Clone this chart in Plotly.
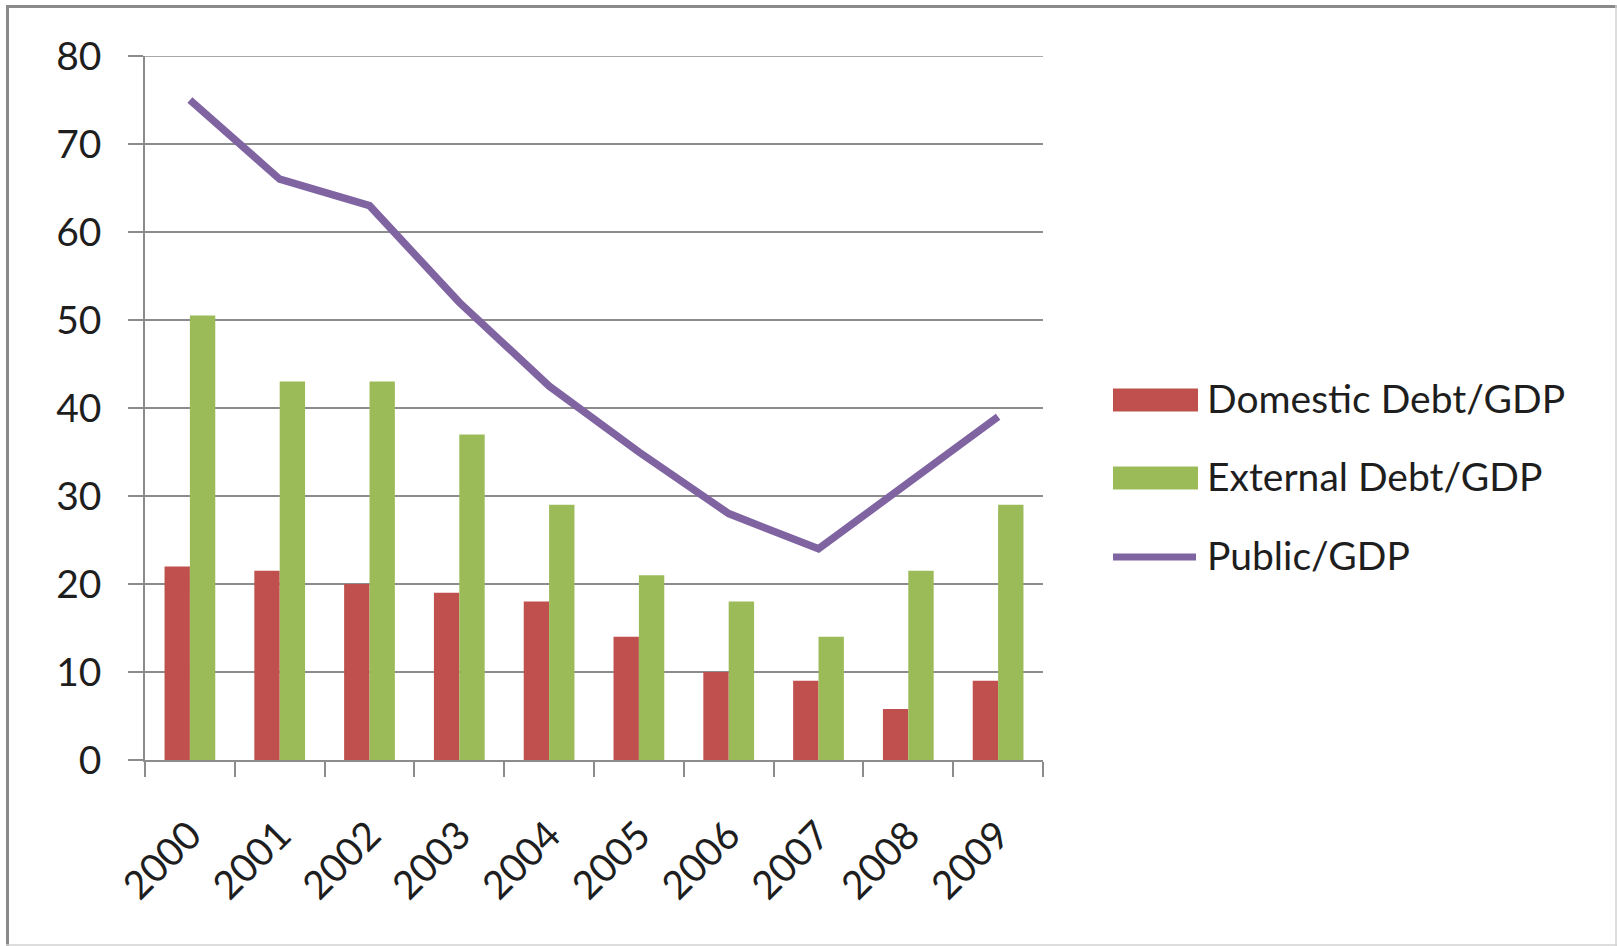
import plotly.graph_objects as go

# Debt ratios, % of GDP
years = ["2000", "2001", "2002", "2003", "2004", "2005", "2006", "2007", "2008", "2009"]
domestic_debt = [22, 21.5, 20, 19, 18, 14, 10, 9, 5.8, 9]
external_debt = [50.5, 43, 43, 37, 29, 21, 18, 14, 21.5, 29]
public_debt = [75, 66, 63, 52, 42.5, 35, 28, 24, 31.5, 39]
series_names = ["Domestic Debt/GDP", "External Debt/GDP", "Public/GDP"]
y_ticks = [0, 10, 20, 30, 40, 50, 60, 70, 80]

RED = "#C0504D"
GREEN = "#9BBB59"
PURPLE = "#8064A2"
GRID = "#8c8c8c"
TEXT = "#1e1e1e"
FONT = "Lato"
FS = 39

W, H = 1617, 946
PL, PR, PT, PB = 145, 1043, 56, 760  # plot area in pixels


def px_x(x):
    return (x - PL) / (PR - PL)


def px_y(y):
    return (PB - y) / (PB - PT)


fig = go.Figure()
fig.add_trace(go.Bar(x=years, y=domestic_debt, name=series_names[0],
                     marker=dict(color=RED, line=dict(width=0)), showlegend=False))
fig.add_trace(go.Bar(x=years, y=external_debt, name=series_names[1],
                     marker=dict(color=GREEN, line=dict(width=0)), showlegend=False))
fig.add_trace(go.Scatter(x=years, y=public_debt, name=series_names[2], mode="lines",
                         line=dict(color=PURPLE, width=7.5), showlegend=False))

# Legend drawn beside the plot: wide swatches like the spreadsheet style
shapes = []
annotations = []
rows = [(400, RED, "bar"), (478, GREEN, "bar"), (557, PURPLE, "line")]
for (cy, color, kind), name in zip(rows, series_names):
    if kind == "bar":
        shapes.append(dict(type="rect", xref="paper", yref="paper",
                           x0=px_x(1113), x1=px_x(1198),
                           y0=px_y(cy + 11.5), y1=px_y(cy - 11.5),
                           fillcolor=color, line=dict(width=0)))
    else:
        shapes.append(dict(type="line", xref="paper", yref="paper",
                           x0=px_x(1113), x1=px_x(1196),
                           y0=px_y(cy), y1=px_y(cy),
                           line=dict(color=color, width=7)))
    annotations.append(dict(text=name, xref="paper", yref="paper",
                            x=px_x(1205), y=px_y(cy - 2), xanchor="left", yanchor="middle",
                            showarrow=False, font=dict(family=FONT, size=FS, color=TEXT)))

# Top gridline sits on the plot edge, so draw it explicitly
shapes.append(dict(type="line", xref="paper", yref="y", x0=0, x1=1,
                   y0=y_ticks[-1], y1=y_ticks[-1], line=dict(color=GRID, width=1.5),
                   layer="below"))

# Outer frame
shapes += [
    dict(type="line", xref="paper", yref="paper", x0=px_x(6), x1=px_x(1617),
         y0=px_y(6.5), y1=px_y(6.5), line=dict(color="#8a8a8a", width=3)),
    dict(type="line", xref="paper", yref="paper", x0=px_x(7.5), x1=px_x(7.5),
         y0=px_y(5), y1=px_y(946), line=dict(color="#8a8a8a", width=3)),
    dict(type="line", xref="paper", yref="paper", x0=px_x(1616), x1=px_x(1616),
         y0=px_y(5), y1=px_y(946), line=dict(color="#d2d2d2", width=1.5)),
    dict(type="line", xref="paper", yref="paper", x0=px_x(6), x1=px_x(1617),
         y0=px_y(945), y1=px_y(945), line=dict(color="#d2d2d2", width=1.5)),
]

fig.update_layout(
    width=W, height=H,
    margin=dict(l=PL, r=W - PR, t=PT, b=H - PB, pad=0),
    paper_bgcolor="white", plot_bgcolor="white",
    barmode="group", bargap=0.435, bargroupgap=0,
    font=dict(family=FONT, size=FS, color=TEXT),
    shapes=shapes, annotations=annotations,
    hovermode=False,
)
fig.update_xaxes(
    type="category", showline=True, linecolor=GRID, linewidth=1.5,
    ticks="outside", ticklen=15, tickwidth=1.5, tickcolor=GRID, tickson="boundaries",
    tickangle=-45, showgrid=False, ticklabelstandoff=35,
    tickfont=dict(family=FONT, size=FS, color=TEXT),
)
fig.update_yaxes(
    range=[0, 80], tickvals=y_ticks, showline=True, linecolor=GRID, linewidth=1.5,
    ticks="outside", ticklen=15, tickwidth=1.5, tickcolor=GRID,
    showgrid=True, gridcolor=GRID, gridwidth=1.5, zeroline=False,
    ticklabelstandoff=19, tickfont=dict(family=FONT, size=FS, color=TEXT),
)

fig.write_html("out.html")
